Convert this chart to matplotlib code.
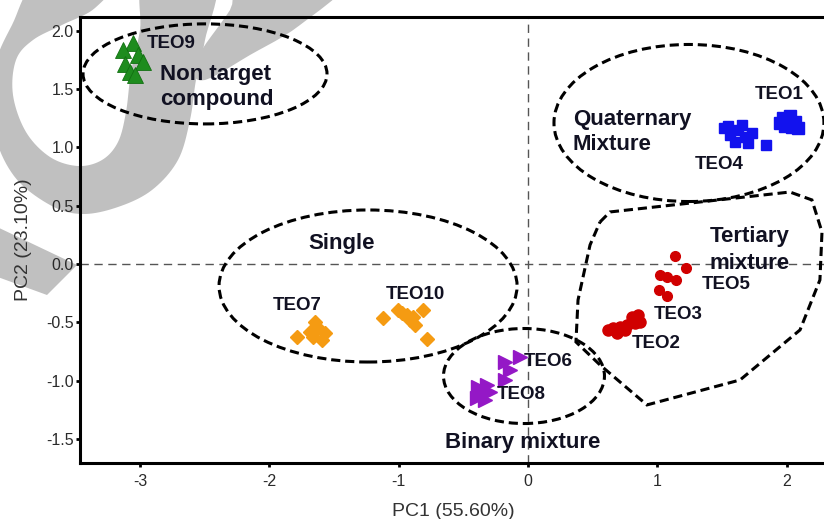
import numpy as np
import matplotlib.pyplot as plt
from matplotlib.patches import Ellipse, Polygon

plt.rcParams['font.family'] = ['Liberation Sans', 'DejaVu Sans']
plt.rcParams['axes.unicode_minus'] = False

# PCA scores
teo9_x = [-3.055, -3.13, -3.02, -3.12, -2.98, -3.08, -3.04]
teo9_y = [1.895, 1.835, 1.79, 1.715, 1.73, 1.645, 1.62]

teo4_x = [1.516, 1.562, 1.624, 1.678, 1.601, 1.701, 1.655, 1.547, 1.732, 1.84]
teo4_y = [1.166, 1.106, 1.149, 1.089, 1.046, 1.038, 1.192, 1.183, 1.123, 1.02]
teo1_x = [1.972, 2.026, 2.065, 1.988, 2.042, 2.088, 1.949]
teo1_y = [1.252, 1.269, 1.218, 1.184, 1.175, 1.166, 1.209]

teo5_x = [1.137, 1.222, 1.021, 1.075, 1.145, 1.013, 1.075]
teo5_y = [0.069, -0.034, -0.094, -0.111, -0.137, -0.223, -0.274]
teo23_x = [0.851, 0.804, 0.828, 0.766, 0.712, 0.657, 0.619, 0.688, 0.750, 0.866]
teo23_y = [-0.437, -0.455, -0.506, -0.523, -0.540, -0.549, -0.566, -0.592, -0.566, -0.497]

teo7_x = [-1.787, -1.647, -1.686, -1.624, -1.570, -1.593, -1.663]
teo7_y = [-0.626, -0.497, -0.583, -0.549, -0.592, -0.652, -0.626]
teo10_x = [-1.121, -1.005, -0.936, -0.889, -0.812, -0.874, -0.913, -0.781, -0.974]
teo10_y = [-0.463, -0.395, -0.437, -0.455, -0.395, -0.523, -0.480, -0.643, -0.420]

teo6_x = [-0.062, -0.178, -0.139, -0.178]
teo6_y = [-0.798, -0.840, -0.909, -0.995]
teo8_x = [-0.387, -0.317, -0.356, -0.394, -0.333, -0.294]
teo8_y = [-1.055, -1.038, -1.106, -1.149, -1.166, -1.098]

xticks = [-3, -2, -1, 0, 1, 2]
yticks = [-1.5, -1.0, -0.5, 0.0, 0.5, 1.0, 1.5, 2.0]

W, H = 824, 519
fig = plt.figure(figsize=(W / 100, H / 100), dpi=100)


def fpx(pts):
    return [(x / W, 1 - y / H) for x, y in pts]


def smooth(pts, n=10):
    # closed Catmull-Rom curve through the outline points
    p = np.array(pts, dtype=float)
    out = []
    k = len(p)
    for i in range(k):
        p0, p1, p2, p3 = p[i - 1], p[i], p[(i + 1) % k], p[(i + 2) % k]
        for t in np.linspace(0, 1, n, endpoint=False):
            out.append(0.5 * ((2 * p1) + (-p0 + p2) * t
                              + (2 * p0 - 5 * p1 + 4 * p2 - p3) * t ** 2
                              + (-p0 + 3 * p1 - 3 * p2 + p3) * t ** 3))
    return out


# grey watermark behind the plot
grey = '#c0c0c0'
loop = [(40, -20), (12, 25), (-6, 70), (-6, 130), (14, 176), (50, 205), (82, 214),
        (118, 207), (152, 190), (178, 160), (190, 120), (196, 80), (205, 40), (214, -20),
        (146, -20), (140, 30), (131, 72), (126, 112), (118, 142), (102, 160), (78, 166),
        (50, 157), (26, 132), (13, 95), (16, 60), (33, 40), (62, 25), (95, 8), (112, -20)]
wedge = [(203, 48), (230, 10), (245, -20), (345, -20), (300, 25), (250, 55), (205, 80), (192, 70)]
stroke = [(-5, 226), (77, 265), (47, 295), (-5, 276)]
for shape in [smooth(loop), smooth(wedge, 6), stroke]:
    fig.add_artist(Polygon(fpx(shape), closed=True, facecolor=grey,
                           edgecolor='none', transform=fig.transFigure, zorder=-5))

ax = fig.add_axes([80 / W, 1 - 463 / H, 746 / W, 446 / H])
ax.set_facecolor('none')
ax.set_xlim(-3.465, 2.305)
ax.set_ylim(-1.707, 2.118)

ax.axhline(0, color='#555555', lw=1, dashes=(6, 4), zorder=1)
ax.axvline(0, color='#555555', lw=1, dashes=(6, 4), zorder=1)

ax.plot(teo9_x, teo9_y, '^', color='#1e8c1e', ms=11, mec='#127012', mew=0.6, ls='')
ax.plot(teo4_x, teo4_y, 's', color='#1212ee', ms=7.5, ls='')
ax.plot(teo1_x, teo1_y, 's', color='#1212ee', ms=8, ls='')
ax.plot(teo5_x, teo5_y, 'o', color='#d00000', ms=7, ls='')
ax.plot(teo23_x, teo23_y, 'o', color='#d00000', ms=8, ls='')
ax.plot(teo7_x, teo7_y, 'D', color='#f59b12', ms=7.5, ls='')
ax.plot(teo10_x, teo10_y, 'D', color='#f59b12', ms=7.5, ls='')
ax.plot(teo6_x, teo6_y, '>', color='#9418c6', ms=9.5, ls='')
ax.plot(teo8_x, teo8_y, '>', color='#9418c6', ms=9.5, ls='')

dash = dict(fill=False, edgecolor='black', lw=2.2, linestyle=(0, (3, 1.6)), zorder=3)
ax.add_patch(Ellipse((-2.498, 1.63), 1.887, 0.858, **dash))
ax.add_patch(Ellipse((1.245, 1.209), 2.088, 1.347, **dash))
ax.add_patch(Ellipse((-1.237, -0.189), 2.305, 1.304, **dash))
ax.add_patch(Ellipse((-0.031, -0.961), 1.245, 0.815, **dash))
tertiary = [(0.557, 0.360), (0.634, 0.446), (2.026, 0.617), (2.196, 0.549),
            (2.274, 0.274), (2.258, -0.137), (2.104, -0.566), (1.640, -0.995),
            (0.920, -1.209), (0.557, -0.866), (0.371, -0.669), (0.387, -0.309),
            (0.480, 0.163)]
ax.add_patch(Polygon(tertiary, closed=True, **dash))

txt = '#111122'
small = dict(fontsize=13.5, fontweight='bold', color=txt, va='center', zorder=5)
big = dict(fontsize=16, fontweight='bold', color=txt, va='center', zorder=5)
ax.text(-2.95, 1.89, 'TEO9', ha='left', **small)
ax.text(1.941, 1.454, 'TEO1', ha='center', **small)
ax.text(1.477, 0.849, 'TEO4', ha='center', **small)
ax.text(1.531, -0.172, 'TEO5', ha='center', **small)
ax.text(1.16, -0.437, 'TEO3', ha='center', **small)
ax.text(0.99, -0.686, 'TEO2', ha='center', **small)
ax.text(-1.787, -0.352, 'TEO7', ha='center', **small)
ax.text(-0.874, -0.266, 'TEO10', ha='center', **small)
ax.text(0.155, -0.84, 'TEO6', ha='center', **small)
ax.text(-0.054, -1.123, 'TEO8', ha='center', **small)

ax.text(-2.846, 1.518, 'Non target\ncompound', ha='left', linespacing=1.2, **big)
ax.text(0.348, 1.132, 'Quaternary\nMixture', ha='left', linespacing=1.3, **big)
ax.text(1.717, 0.12, 'Tertiary\nmixture', ha='center', linespacing=1.35, **big)
ax.text(-1.438, 0.172, 'Single', ha='center', **big)
ax.text(-0.039, -1.535, 'Binary mixture', ha='center', **big)

for side in ['left', 'bottom', 'top']:
    ax.spines[side].set_linewidth(2.2)
ax.spines['right'].set_visible(False)

ax.set_xticks(xticks)
ax.set_xticklabels([str(t) for t in xticks])
ax.set_yticks(yticks)
ax.set_yticklabels(['%.1f' % t for t in yticks])
ax.tick_params(axis='both', labelsize=11.5, labelcolor='#2a2a2a', width=2, length=3)
ax.tick_params(axis='y', pad=1.5)
ax.tick_params(axis='x', pad=5)

ax.set_xlabel('PC1 (55.60%)', fontsize=14, color='#333333', labelpad=10)
ax.set_ylabel('PC2 (23.10%)', fontsize=14, color='#333333', labelpad=10)

fig.savefig('out.png', dpi=100)
